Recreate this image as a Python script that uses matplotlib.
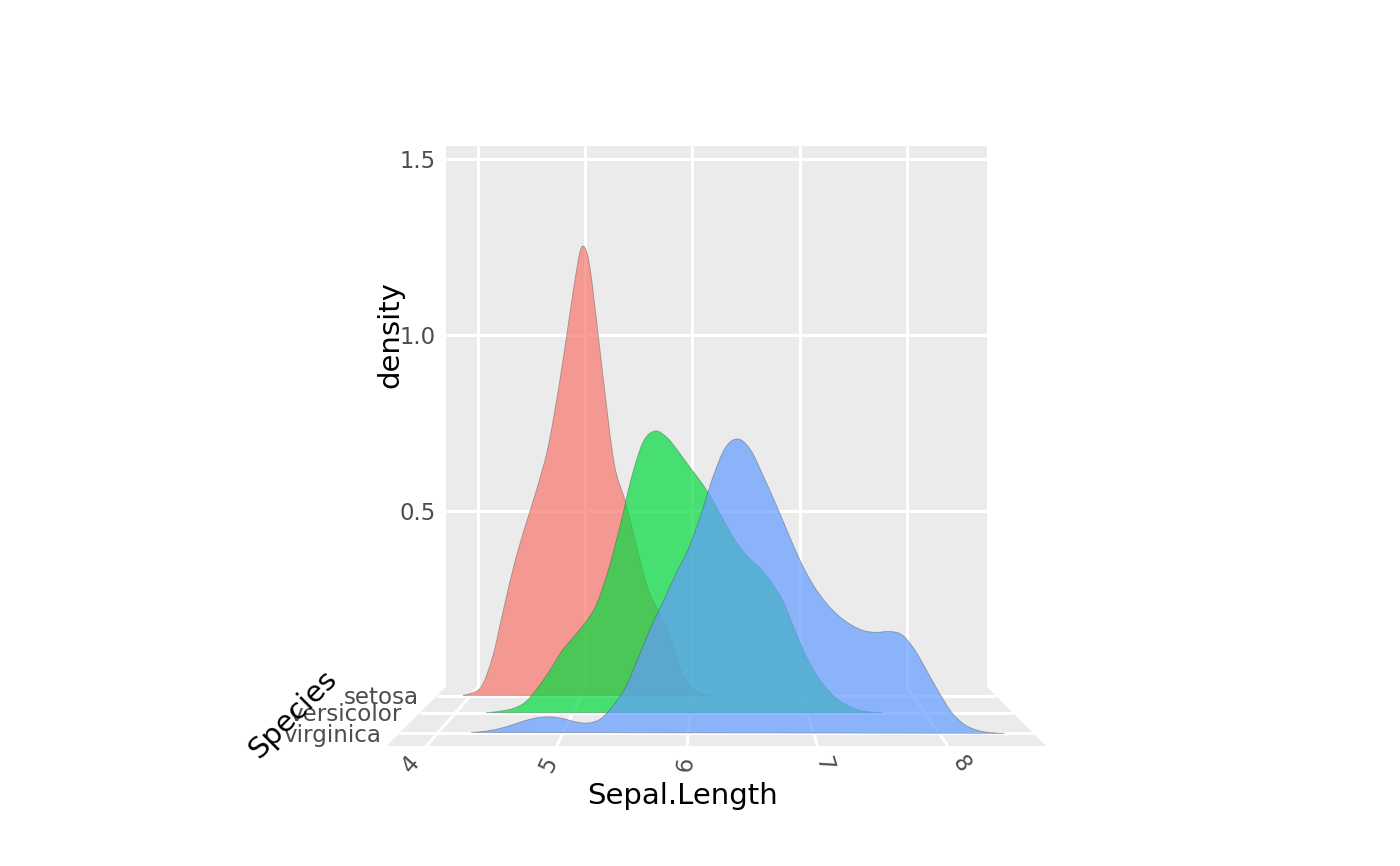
import numpy as np
import matplotlib
matplotlib.use("Agg")
import matplotlib.pyplot as plt
from matplotlib.colors import to_rgba
from matplotlib.path import Path
from matplotlib.patches import PathPatch, Polygon

# ---------- data ----------
species = ["setosa", "versicolor", "virginica"]
species_pos = [0.955, 1.952, 3.014]
x_ticks = [4, 5, 6, 7, 8]
z_ticks = [0.5, 1.0, 1.5]

setosa_x = [3.93, 4.0, 4.1, 4.2, 4.3, 4.4, 4.5, 4.6, 4.7, 4.8, 4.9, 4.95, 5.0, 5.05, 5.1, 5.2, 5.3, 5.4, 5.5, 5.6, 5.7,
            5.8, 5.9, 6.0, 6.1, 6.17]
setosa_d = [0.001, 0.006, 0.026, 0.108, 0.240, 0.368, 0.472, 0.570, 0.683, 0.853, 1.055, 1.155, 1.232, 1.222, 1.135,
            0.875, 0.639, 0.535, 0.414, 0.298, 0.232, 0.165, 0.072, 0.022, 0.004, 0.000]

versicolor_x = [4.26, 4.3, 4.4, 4.5, 4.6, 4.7, 4.8, 4.9, 5.0, 5.1, 5.2, 5.3, 5.4, 5.5, 5.6, 5.7, 5.8, 5.9, 6.0, 6.1,
                6.2, 6.3, 6.4, 6.5, 6.6, 6.7, 6.8, 6.9, 7.0, 7.1, 7.2, 7.3, 7.4, 7.5, 7.64]
versicolor_d = [0.000, 0.001, 0.005, 0.012, 0.029, 0.065, 0.108, 0.157, 0.195, 0.231, 0.280, 0.368, 0.482, 0.610,
                0.703, 0.731, 0.715, 0.678, 0.636, 0.596, 0.548, 0.491, 0.440, 0.402, 0.374, 0.335, 0.285, 0.209,
                0.140, 0.088, 0.051, 0.026, 0.011, 0.003, 0.000]

virginica_x = [4.27, 4.4, 4.5, 4.6, 4.7, 4.8, 4.9, 5.0, 5.1, 5.2, 5.3, 5.4, 5.5, 5.6, 5.7, 5.8, 5.9, 6.0, 6.1, 6.2,
               6.3, 6.4, 6.5, 6.6, 6.7, 6.8, 6.9, 7.0, 7.1, 7.2, 7.3, 7.4, 7.5, 7.6, 7.7, 7.8, 7.9, 8.0, 8.1, 8.2, 8.3,
               8.4, 8.52]
virginica_d = [0.002, 0.006, 0.012, 0.021, 0.031, 0.038, 0.040, 0.036, 0.028, 0.025, 0.035, 0.067, 0.112, 0.183,
               0.256, 0.320, 0.386, 0.447, 0.530, 0.625, 0.695, 0.714, 0.686, 0.623, 0.555, 0.483, 0.414, 0.358,
               0.316, 0.285, 0.263, 0.249, 0.245, 0.247, 0.240, 0.205, 0.153, 0.099, 0.051, 0.022, 0.008, 0.002, 0.000]

fills = ["#F8766D", "#03DB3F", "#619CFF"]

# ---------- perspective scale: data (x, species, density) to picture ----------
X_LIM = (3.696, 8.752)
Y_LIM = (0.4, 3.6)
Z_TOP = 1.537
CX = 716.5
K = 0.1788


def project(x, y, z=0.0):
    x, y, z = np.broadcast_arrays(np.asarray(x, float), np.asarray(y, float), np.asarray(z, float))
    t = (y - Y_LIM[0]) / (Y_LIM[1] - Y_LIM[0])
    s = 1.0 / (1.0 - K * t)
    px = CX + s * (478.2 + 107.1 * (x - 4.0) - CX)
    py = 687.0 + (s - 1.0) * (59.0 / 0.2178) - s * 352.0 * z
    return px, py


def smooth_path(px, py):
    pts = np.column_stack([px, py])
    verts = [pts[0]]
    codes = [Path.MOVETO]
    n = len(pts)
    for i in range(n - 1):
        p0 = pts[max(i - 1, 0)]
        p1, p2 = pts[i], pts[i + 1]
        p3 = pts[min(i + 2, n - 1)]
        verts += [p1 + (p2 - p0) / 6.0, p2 - (p3 - p1) / 6.0, p2]
        codes += [Path.CURVE4] * 3
    verts += [pts[0], pts[0]]
    codes += [Path.LINETO, Path.CLOSEPOLY]
    return Path(np.array(verts), codes)


plt.rcParams["font.family"] = "DejaVu Sans"
fig = plt.figure(figsize=(14, 8.66), dpi=100)
ax = fig.add_axes([0, 0, 1, 1])
ax.set_xlim(0, 1400)
ax.set_ylim(866, 0)
ax.axis("off")

PANEL = "#EBEBEB"
GRID_LW = 2.2
# back wall
wx, wy = project([X_LIM[0], X_LIM[1], X_LIM[1], X_LIM[0]], Y_LIM[0], [0, 0, Z_TOP, Z_TOP])
ax.add_patch(Polygon(np.column_stack([wx, wy]), fc=PANEL, ec="none", zorder=1))
# floor
fx, fy = project([X_LIM[0], X_LIM[1], X_LIM[1], X_LIM[0]], [Y_LIM[0], Y_LIM[0], Y_LIM[1], Y_LIM[1]])
ax.add_patch(Polygon(np.column_stack([fx, fy]), fc=PANEL, ec="none", zorder=1))

for v in x_ticks:
    gx, gy = project([v, v], Y_LIM[0], [0, Z_TOP])
    ax.plot(gx, gy, color="white", lw=GRID_LW, solid_capstyle="butt", zorder=2)
    gx, gy = project([v, v], Y_LIM, 0)
    ax.plot(gx, gy, color="white", lw=GRID_LW, solid_capstyle="butt", zorder=2)
for v in z_ticks:
    gx, gy = project(X_LIM, Y_LIM[0], v)
    ax.plot(gx, gy, color="white", lw=GRID_LW, solid_capstyle="butt", zorder=2)
for v in species_pos:
    gx, gy = project(X_LIM, v, 0)
    ax.plot(gx, gy, color="white", lw=GRID_LW, solid_capstyle="butt", zorder=2)

series = [(setosa_x, setosa_d), (versicolor_x, versicolor_d), (virginica_x, virginica_d)]
for i, ((xs, ds), col) in enumerate(zip(series, fills)):
    px, py = project(xs, species_pos[i], ds)
    ax.add_patch(PathPatch(smooth_path(px, py), fc=to_rgba(col, 0.7),
                           ec=(0.25, 0.25, 0.25, 0.4), lw=0.6, zorder=3 + i))

TICK = "#4D4D4D"
for v in z_ticks:
    _, gy = project(X_LIM[0], Y_LIM[0], v)
    ax.text(435.5, float(gy) + 9, f"{v:.1f}", ha="right", va="baseline", color=TICK, fontsize=16.4)
for name, pos in zip(species, species_pos):
    lx, ly = project(X_LIM[0], pos, 0)
    ax.text(float(lx) - 18.4, float(ly) + 8.3, name, ha="right", va="baseline", color=TICK, fontsize=16.6)
for v in x_ticks:
    x0, y0 = project(v, Y_LIM[0], 0)
    x1, y1 = project(v, Y_LIM[1], 0)
    ang = float(np.degrees(np.arctan(-(y1 - y0) / (x1 - x0))))
    lx = float(x1 + (x1 - x0) / (y1 - y0) * 18)
    ax.text(lx, float(y1) + 18.5, str(v), ha="center", va="center", rotation=ang,
            color=TICK, fontsize=16.4)

ax.text(682.5, 796, "Sepal.Length", ha="center", va="center", fontsize=21, color="black")
ax.text(390, 334, "density", ha="center", va="center", rotation=90, fontsize=21, color="black")
ax.text(293, 714, "Species", ha="center", va="center", rotation=45, rotation_mode="anchor", fontsize=21, color="black")

fig.savefig("out.png", dpi=100)
